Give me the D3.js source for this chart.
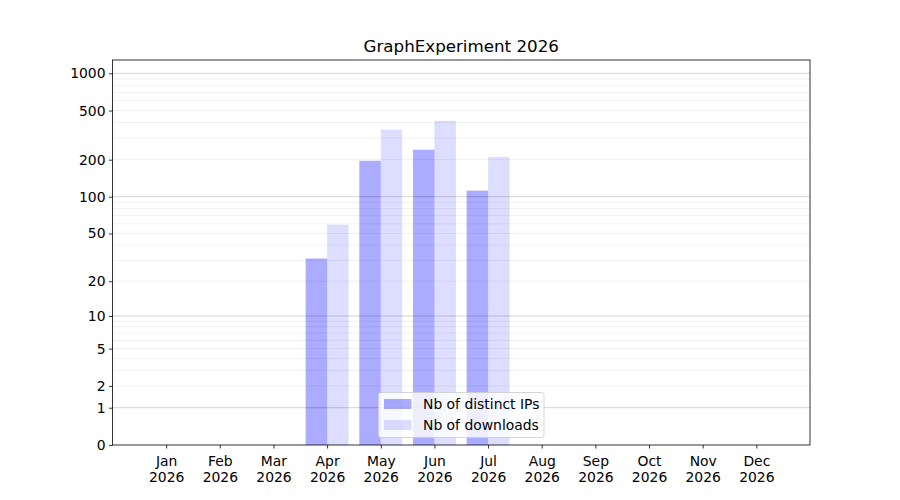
<!DOCTYPE html>
<html lang="en">
<head>
  <meta charset="UTF-8">
  <title>GraphExperiment 2026</title>
  <style>
    body, html { margin: 0; padding: 0; background: #fff; }
    svg text { font-family: "DejaVu Sans", sans-serif; fill: #000; }
  </style>
</head>
<body>
  <svg id="svg" width="900" height="500"></svg>

  <script src="https://d3js.org/d3.v7.min.js"></script>
  <script>
    // data
    const months = ['Jan', 'Feb', 'Mar', 'Apr', 'May', 'Jun', 'Jul', 'Aug', 'Sep', 'Oct', 'Nov', 'Dec']
    const year = '2026'
    const distinctIPs = [0, 0, 0, 31, 196, 241, 112, 0, 0, 0, 0, 0]
    const downloads = [0, 0, 0, 59, 350, 413, 211, 0, 0, 0, 0, 0]
    const yTicks = [0, 1, 2, 5, 10, 20, 50, 100, 200, 500, 1000]
    const seriesNames = ['Nb of distinct IPs', 'Nb of downloads']

    const svg = d3.select('#svg')
    const plotLeft = 112.5, plotRight = 810, plotTop = 60, plotBottom = 445

    const x = d3.scaleLinear().domain([-1, 12]).range([plotLeft, plotRight])
    const y = d3.scaleSymlog().constant(1).domain([0, 1281]).range([plotBottom, plotTop])

    // gridlines: majors at decades, minors in between
    const majors = [1, 10, 100, 1000]
    const minors = []
    ;[1, 10, 100].forEach(d => {
      for (let m = 2; m <= 9; m++) minors.push(m * d)
    })

    const barW = 0.4

    // bars (grid goes on top, as matplotlib does)
    svg.append('g')
      .selectAll('rect')
      .data(distinctIPs.map((v, i) => ({ i, v })).filter(d => d.v > 0))
      .join('rect')
      .attr('x', d => x(d.i - barW))
      .attr('width', d => x(d.i) - x(d.i - barW))
      .attr('y', d => y(d.v))
      .attr('height', d => y(0) - y(d.v))
      .attr('fill', 'blue')
      .attr('fill-opacity', 0.33)

    svg.append('g')
      .selectAll('rect')
      .data(downloads.map((v, i) => ({ i, v })).filter(d => d.v > 0))
      .join('rect')
      .attr('x', d => x(d.i))
      .attr('width', d => x(d.i + barW) - x(d.i))
      .attr('y', d => y(d.v))
      .attr('height', d => y(0) - y(d.v))
      .attr('fill', 'blue')
      .attr('fill-opacity', 0.135)

    const grid = svg.append('g')
    grid.append('g').selectAll('line')
      .data(minors)
      .join('line')
      .attr('x1', plotLeft).attr('x2', plotRight)
      .attr('y1', d => y(d)).attr('y2', d => y(d))
      .attr('stroke', '#000').attr('stroke-opacity', 0.08).attr('stroke-width', 0.8)
    grid.append('g').selectAll('line')
      .data(majors)
      .join('line')
      .attr('x1', plotLeft).attr('x2', plotRight)
      .attr('y1', d => y(d)).attr('y2', d => y(d))
      .attr('stroke', '#000').attr('stroke-opacity', 0.22).attr('stroke-width', 0.8)

    // y axis
    const yAxis = svg.append('g')
      .attr('transform', `translate(${plotLeft},0)`)
      .call(d3.axisLeft(y).tickValues(yTicks).tickFormat(d3.format('d')).tickSize(3.5).tickPadding(3.5))
    yAxis.select('.domain').remove()
    yAxis.selectAll('text').style('font-size', '13.9px').style('font-family', 'DejaVu Sans')
    yAxis.selectAll('line').attr('stroke-width', 0.8)

    // x axis
    const xAxis = svg.append('g')
      .attr('transform', `translate(0,${plotBottom})`)
      .call(d3.axisBottom(x).tickValues(d3.range(months.length)).tickFormat(() => '').tickSize(3.5))
    xAxis.select('.domain').remove()
    xAxis.selectAll('line').attr('stroke-width', 0.8)
    xAxis.selectAll('.tick').each(function (d) {
      const t = d3.select(this).append('text')
        .attr('text-anchor', 'middle')
        .style('font-size', '13.9px')
        .style('font-family', 'DejaVu Sans')
        .attr('fill', '#000')
      t.append('tspan').attr('x', 0).attr('y', 21).text(months[d])
      t.append('tspan').attr('x', 0).attr('y', 37).text(year)
    })

    // frame
    svg.append('rect')
      .attr('x', plotLeft).attr('y', plotTop)
      .attr('width', plotRight - plotLeft).attr('height', plotBottom - plotTop)
      .attr('fill', 'none').attr('stroke', '#000').attr('stroke-width', 0.8)

    // title
    svg.append('text')
      .attr('x', (plotLeft + plotRight) / 2).attr('y', 52)
      .attr('text-anchor', 'middle')
      .style('font-size', '16.7px')
      .text('GraphExperiment ' + year)

    // legend
    const legend = svg.append('g').attr('transform', 'translate(378.5,392.5)')
    legend.append('rect')
      .attr('width', 165.5).attr('height', 45)
      .attr('rx', 2.5)
      .attr('fill', '#fff').attr('fill-opacity', 0.8)
      .attr('stroke', '#ccc').attr('stroke-width', 0.8)
    const opac = [0.33, 0.135]
    seriesNames.forEach((name, i) => {
      const row = legend.append('g').attr('transform', `translate(0,${6.5 + i * 21})`)
      row.append('rect')
        .attr('x', 5.5).attr('width', 27.5).attr('height', 10)
        .attr('fill', 'blue').attr('fill-opacity', opac[i])
      row.append('text')
        .attr('x', 44.5).attr('y', 10)
        .style('font-size', '13.9px')
        .text(name)
    })
  </script>
</body>
</html>
